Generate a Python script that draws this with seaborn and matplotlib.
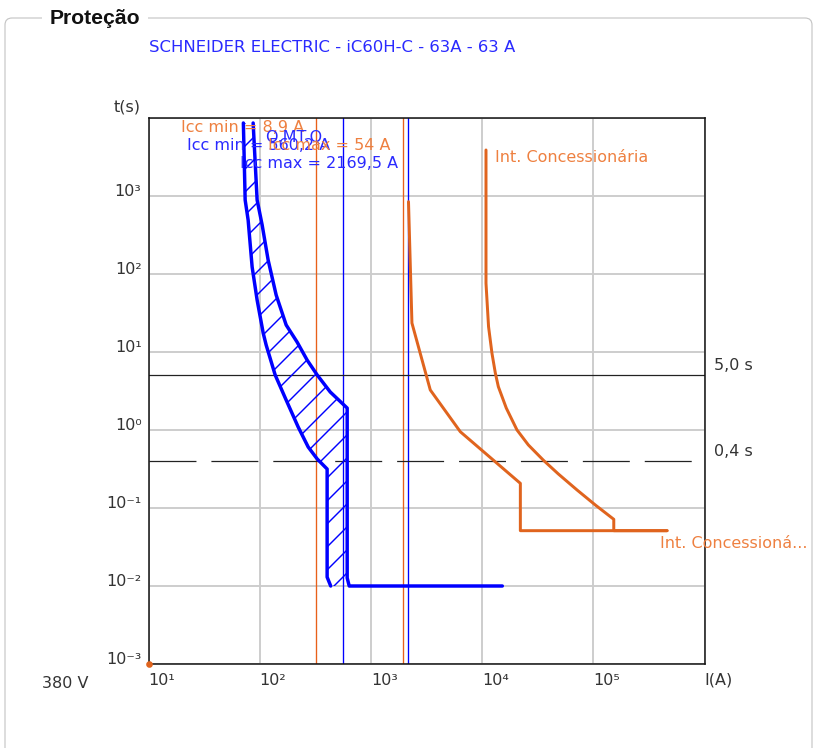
import numpy as np
import matplotlib
matplotlib.use("Agg")
import matplotlib.pyplot as plt
import seaborn as sns
from matplotlib.patches import FancyBboxPatch
from matplotlib.transforms import IdentityTransform
from matplotlib.ticker import NullLocator

# ---- data -------------------------------------------------------------
# iC60H-C 63 A breaker band (current in A, time in s)
brk_min_i = [71.3, 74.0, 78.7, 85.5, 94.8, 107.5, 114.3, 137.8, 173, 222, 273, 329, 404, 404, 435]
brk_min_t = [8630, 889, 492, 123, 46.4, 17.5, 12.3, 5.07, 2.42, 1.09, 0.605, 0.425, 0.316, 0.013, 0.01]
brk_max_i = [87.3, 94.8, 105.2, 119.1, 140.6, 173, 217, 267, 329, 431, 612, 612, 638, 15200]
brk_max_t = [8630, 889, 425, 151, 53.8, 22.2, 13.4, 7.88, 5.07, 3.07, 1.91, 0.0127, 0.01, 0.01]

# utility relay curves referred to the 380 V side
conc1_i = [2178, 2339, 3420, 6370, 22080, 22080, 461000]
conc1_t = [845, 23.5, 3.26, 0.95, 0.207, 0.0512, 0.0512]
conc2_i = [10840, 10840, 11430, 12270, 13150, 14000, 16500, 20600, 26060, 35560,
           48500, 71500, 104500, 152800, 152800, 461000]
conc2_t = [3890, 76, 21.1, 9.6, 5.38, 3.59, 1.91, 1.0, 0.643, 0.41,
           0.273, 0.170, 0.109, 0.0716, 0.0512, 0.0512]

ratio_mt_bt = 13800 / 380          # MT -> BT current ratio
icc_mt = [8.9, 54.0]               # short-circuit currents on MT side (A)
icc_bt = [560.2, 2169.5]           # short-circuit currents on BT side (A)
t_marks = [5.0, 0.4]               # reference times (s)

x_ticks = [1e1, 1e2, 1e3, 1e4, 1e5, 1e6]
x_labels = ["10¹", "10²", "10³", "10⁴", "10⁵", "I(A)"]
y_ticks = [1e-3, 1e-2, 1e-1, 1e0, 1e1, 1e2, 1e3, 1e4]
y_labels = ["10⁻³", "10⁻²", "10⁻¹", "10⁰", "10¹", "10²", "10³", ""]

# ---- style ------------------------------------------------------------
sns.set_theme(style="white")
plt.rcParams["font.family"] = ["DejaVu Sans"]
plt.rcParams["lines.scale_dashes"] = False
plt.rcParams["hatch.linewidth"] = 0.75

BLUE = "#0000FF"
BLUE_TXT = "#2A2AFF"
ORANGE = "#E0641E"
ORANGE_LN = "#E8601A"
ORANGE_TXT = "#EE8040"
GRID = "#CCCCCC"
FS = 8.35

DPI = 138
W, H = 814, 748
fig = plt.figure(figsize=(W / DPI, H / DPI), dpi=DPI, facecolor="white")


def fx(px):
    return px / W


def fy(py):
    return 1 - py / H


# outer panel with title
panel = FancyBboxPatch((5, -40), 807, H - 18 + 40,
                       boxstyle="round,pad=0,rounding_size=7",
                       transform=IdentityTransform(), facecolor="none",
                       edgecolor="#C4C4C4", linewidth=0.6)
fig.add_artist(panel)
fig.text(fx(50), fy(18), "Proteção", ha="left", va="center", fontsize=11,
         fontweight="bold", family="Liberation Sans", color="#111111",
         bbox=dict(facecolor="white", edgecolor="none", pad=4))
fig.text(fx(149), fy(47), "SCHNEIDER ELECTRIC - iC60H-C - 63A - 63 A",
         ha="left", va="center", fontsize=8.6, color=BLUE_TXT)

ax = fig.add_axes([fx(148.5), 84 / H, 556 / W, 546 / H])
ax.set_xscale("log")
ax.set_yscale("log")
ax.set_xlim(1e1, 1e6)
ax.set_ylim(1e-3, 1e4)
ax.set_axisbelow(True)
ax.grid(True, which="major", color=GRID, linewidth=1.0)
ax.xaxis.set_minor_locator(NullLocator())
ax.yaxis.set_minor_locator(NullLocator())

# short-circuit marks
for v in icc_mt:
    ax.axvline(v * ratio_mt_bt, color=ORANGE_LN, linewidth=0.7, zorder=2)
for v in icc_bt:
    ax.axvline(v, color=BLUE, linewidth=0.7, zorder=2)

# reference times
ax.axhline(t_marks[0], color="#222222", linewidth=0.65, zorder=2)
ax.axhline(t_marks[1], color="#222222", linewidth=0.65, dashes=(24.5, 7.8), zorder=2)

# hatched breaker band
band_i = brk_min_i + brk_max_i[:-1][::-1]
band_t = brk_min_t + brk_max_t[:-1][::-1]
ax.fill(band_i, band_t, facecolor="none", edgecolor=BLUE, hatch="//",
        linewidth=0, zorder=3)


def curve(i, t, color, lw):
    sns.lineplot(x=i, y=t, ax=ax, color=color, linewidth=lw, sort=False,
                 estimator=None, legend=False, zorder=4)


curve(brk_min_i, brk_min_t, BLUE, 1.8)
curve(brk_max_i, brk_max_t, BLUE, 1.8)
curve(conc1_i, conc1_t, ORANGE, 1.55)
curve(conc2_i, conc2_t, ORANGE, 1.55)

ax.scatter([1e1], [1e-3], s=6, color=ORANGE, clip_on=False, zorder=6)

# axes, ticks, labels
ax.set_xticks(x_ticks)
ax.set_xticklabels(x_labels, ha="left")
ax.set_yticks(y_ticks)
ax.set_yticklabels(y_labels)
for lab in ax.get_yticklabels():
    lab.set_verticalalignment("baseline")
ax.tick_params(axis="both", which="major", direction="out", length=2.6,
               width=0.6, color="#222222", labelsize=FS, labelcolor="#333333")
ax.tick_params(axis="x", pad=2)
ax.tick_params(axis="y", pad=1)
ax.set_xlabel("")
ax.set_ylabel("")
for s in ax.spines.values():
    s.set_color("#111111")
    s.set_linewidth(0.8)

fig.text(fx(141), fy(107), "t(s)", ha="right", va="center", fontsize=FS, color="#333333")
fig.text(fx(88), fy(684), "380 V", ha="right", va="center", fontsize=FS, color="#333333")
fig.text(fx(714), fy(366), "5,0 s", ha="left", va="center", fontsize=FS, color="#333333")
fig.text(fx(714), fy(452), "0,4 s", ha="left", va="center", fontsize=FS, color="#333333")

fig.text(fx(495), fy(157), "Int. Concessionária", ha="left", va="center",
         fontsize=FS, color=ORANGE_TXT)
fig.text(fx(660), fy(543), "Int. Concessioná...", ha="left", va="center",
         fontsize=FS, color=ORANGE_TXT)

fig.text(fx(181), fy(127), "Icc min = 8,9 A", ha="left", va="center",
         fontsize=FS, color=ORANGE_TXT, zorder=10)
fig.text(fx(265), fy(137), "Q.MT.Q", ha="left", va="center",
         fontsize=FS, color=BLUE_TXT, zorder=10)
fig.text(fx(187), fy(146), "Icc min = 560,2 A", ha="left", va="center",
         fontsize=FS, color=BLUE_TXT, zorder=10)
fig.text(fx(268), fy(146), "Icc max = 54 A", ha="left", va="center",
         fontsize=FS, color=ORANGE_TXT, zorder=10)
fig.text(fx(240), fy(164), "Icc max = 2169,5 A", ha="left", va="center",
         fontsize=FS, color=BLUE_TXT, zorder=10)

fig.savefig("out.png", dpi=DPI, facecolor="white")
